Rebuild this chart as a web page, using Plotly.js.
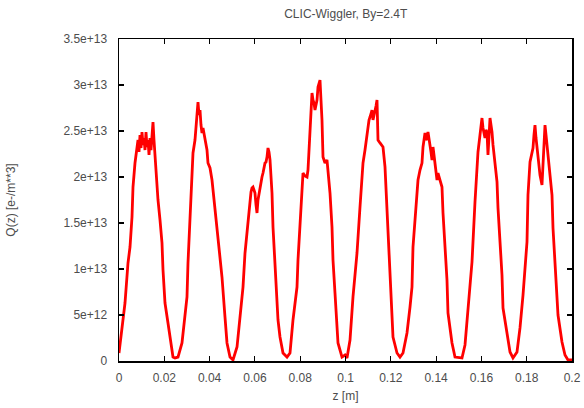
<!DOCTYPE html>
<html>
<head>
<meta charset="utf-8">
<script src="https://cdn.plot.ly/plotly-3.0.1.min.js"></script>
<style>html,body{margin:0;padding:0;background:#fff;}#chart{width:584px;height:408px;}</style>
</head>
<body>
<div id="chart"></div>
<script>
// z positions [m]
const zValues = [
  0.0000,0.00132,0.00265,0.00397,0.00486,0.00574,0.00618,0.00706,0.00795,0.00839,0.00883,0.00927,0.00971,0.01015,0.01060,0.01104,0.01148,0.01192,0.01236,0.01280,0.01325,0.01369,0.01413,0.01457,0.01501,0.01545,0.01589,0.01678,0.01722,0.01810,0.01898,0.01943,0.02031,0.02163,0.02340,0.02384,0.02472,
  0.02605,0.02781,0.02914,0.03002,0.03046,0.03135,0.03223,0.03267,0.03355,0.03400,0.03444,0.03488,0.03532,0.03576,0.03620,0.03664,0.03709,0.03797,0.03885,0.03929,0.04018,0.04106,0.04150,0.04238,0.04371,0.04547,0.04680,0.04768,0.04901,0.05033,
  0.05210,0.05342,0.05475,0.05563,0.05651,0.05695,0.05784,0.05828,0.05872,0.05916,0.05960,0.06004,0.06049,0.06093,0.06137,0.06225,0.06269,0.06313,0.06358,0.06402,0.06446,0.06490,0.06534,0.06578,0.06623,0.06667,0.06755,0.06799,0.06887,0.06976,0.07020,0.07108,0.07241,0.07417,0.07550,
  0.07682,0.07859,0.07903,0.07991,0.08079,0.08124,0.08212,0.08300,0.08344,0.08433,0.08477,0.08521,0.08565,0.08609,0.08653,0.08698,0.08742,0.08786,0.08830,0.08874,0.08918,0.08962,0.09007,0.09095,0.09183,0.09227,0.09316,0.09404,0.09448,0.09536,0.09625,0.09669,0.09845,0.09978,
  0.10066,0.10199,0.10331,0.10508,0.10640,0.10773,0.10861,0.10949,0.10993,0.11038,0.11082,0.11126,0.11170,0.11214,0.11258,0.11302,0.11347,0.11391,0.11435,0.11523,0.11656,0.11744,0.11832,0.11876,0.11965,0.12053,0.12097,0.12274,0.12406,
  0.12539,0.12715,0.12848,0.12936,0.12980,0.13068,0.13201,0.13289,0.13377,0.13422,0.13466,0.13510,0.13554,0.13598,0.13642,0.13687,0.13731,0.13775,0.13819,0.13863,0.13907,0.13951,0.14040,0.14084,0.14172,0.14260,0.14305,0.14393,0.14481,0.14525,0.14702,0.14834,0.15055,
  0.15143,0.15276,0.15408,0.15585,0.15717,0.15806,0.15850,0.15938,0.15982,0.16026,0.16071,0.16115,0.16159,0.16203,0.16247,0.16291,0.16336,0.16380,0.16424,0.16468,0.16512,0.16600,0.16689,0.16733,0.16821,0.16909,0.16954,0.17130,0.17263,0.17395,
  0.17572,0.17704,0.17837,0.18013,0.18057,0.18146,0.18234,0.18278,0.18322,0.18366,0.18411,0.18455,0.18499,0.18587,0.18675,0.18720,0.18764,0.18808,0.18852,0.18896,0.18940,0.19029,0.19117,0.19161,0.19249,0.19338,0.19382,0.19558,0.19691,0.19823,0.20000
];
// Q(z) [e-/m**3]
const qValues = [
  0.087e13,0.337e13,0.630e13,1.065e13,1.239e13,1.565e13,1.891e13,2.152e13,2.293e13,2.402e13,2.272e13,2.457e13,2.315e13,2.489e13,2.348e13,2.424e13,2.293e13,2.489e13,2.326e13,2.402e13,2.239e13,2.424e13,2.293e13,2.511e13,2.598e13,2.402e13,2.217e13,1.891e13,1.750e13,1.533e13,1.283e13,0.989e13,0.630e13,0.413e13,0.152e13,0.043e13,0.033e13,
  0.043e13,0.196e13,0.478e13,0.696e13,1.065e13,1.500e13,1.935e13,2.261e13,2.402e13,2.565e13,2.707e13,2.815e13,2.674e13,2.728e13,2.565e13,2.478e13,2.533e13,2.402e13,2.293e13,2.152e13,2.098e13,1.967e13,1.859e13,1.641e13,1.283e13,0.913e13,0.478e13,0.196e13,0.043e13,0.011e13,
  0.152e13,0.522e13,0.804e13,1.174e13,1.391e13,1.533e13,1.750e13,1.837e13,1.880e13,1.891e13,1.859e13,1.826e13,1.696e13,1.609e13,1.750e13,1.891e13,1.946e13,2.000e13,2.043e13,2.098e13,2.152e13,2.163e13,2.217e13,2.315e13,2.272e13,2.185e13,1.826e13,1.457e13,1.098e13,0.739e13,0.446e13,0.261e13,0.087e13,0.043e13,0.087e13,
  0.446e13,0.804e13,1.098e13,1.533e13,1.891e13,2.043e13,2.011e13,2.000e13,2.076e13,2.543e13,2.783e13,2.913e13,2.837e13,2.804e13,2.728e13,2.793e13,2.837e13,2.978e13,3.011e13,3.054e13,2.837e13,2.620e13,2.217e13,2.152e13,2.185e13,2.076e13,1.826e13,1.457e13,1.098e13,0.739e13,0.446e13,0.196e13,0.043e13,0.065e13,
  0.033e13,0.228e13,0.696e13,1.174e13,1.674e13,2.152e13,2.293e13,2.478e13,2.587e13,2.620e13,2.652e13,2.707e13,2.728e13,2.620e13,2.663e13,2.707e13,2.772e13,2.837e13,2.402e13,2.370e13,2.326e13,2.109e13,1.674e13,1.315e13,0.957e13,0.554e13,0.261e13,0.087e13,0.043e13,
  0.087e13,0.304e13,0.587e13,0.804e13,1.239e13,1.533e13,1.967e13,2.076e13,2.152e13,2.326e13,2.402e13,2.478e13,2.402e13,2.424e13,2.489e13,2.424e13,2.370e13,2.272e13,2.185e13,2.326e13,2.239e13,2.152e13,1.967e13,2.043e13,1.967e13,1.891e13,1.609e13,1.239e13,0.880e13,0.522e13,0.196e13,0.043e13,0.033e13,
  0.033e13,0.174e13,0.576e13,1.076e13,1.728e13,2.163e13,2.272e13,2.457e13,2.565e13,2.641e13,2.533e13,2.457e13,2.424e13,2.511e13,2.489e13,2.239e13,2.457e13,2.641e13,2.565e13,2.489e13,2.348e13,2.163e13,1.946e13,1.663e13,1.293e13,0.935e13,0.576e13,0.283e13,0.098e13,0.033e13,
  0.098e13,0.359e13,0.717e13,1.293e13,1.804e13,2.163e13,2.272e13,2.315e13,2.457e13,2.565e13,2.424e13,2.315e13,2.163e13,2.022e13,1.913e13,2.163e13,2.402e13,2.565e13,2.457e13,2.348e13,2.163e13,2.022e13,1.804e13,1.446e13,1.076e13,0.641e13,0.500e13,0.207e13,0.065e13,0.011e13,0.011e13
];
const xTickVals = [0,0.02,0.04,0.06,0.08,0.1,0.12,0.14,0.16,0.18,0.2];
const xTickText = ['0','0.02','0.04','0.06','0.08','0.1','0.12','0.14','0.16','0.18','0.2'];
const yTickVals = [0,5e12,1e13,1.5e13,2e13,2.5e13,3e13,3.5e13];
const yTickText = ['0','5e+12','1e+13','1.5e+13','2e+13','2.5e+13','3e+13','3.5e+13'];

const font = {family: 'Liberation Sans, Arial, sans-serif', size: 12, color: '#4d4d4d'};
const trace = {
  x: zValues, y: qValues, type: 'scatter', mode: 'lines',
  line: {color: '#ff0000', width: 2.8}, hoverinfo: 'none'
};
const axisCommon = {
  showline: true, linecolor: '#000', linewidth: 1.5, mirror: 'ticks',
  ticks: 'inside', ticklen: 5, tickwidth: 1.2, tickcolor: '#000',
  showgrid: false, zeroline: false, tickfont: font
};
const layout = {
  width: 584, height: 408,
  margin: {l: 119, r: 12, t: 39, b: 47},
  paper_bgcolor: '#fff', plot_bgcolor: '#fff',
  showlegend: false,
  font: font,
  title: {text: 'CLIC-Wiggler, By=2.4T', font: font, x: 0.592, xanchor: 'center', y: 0.965, yanchor: 'middle'},
  xaxis: Object.assign({}, axisCommon, {
    range: [0, 0.2], tickvals: xTickVals, ticktext: xTickText, ticklabelstandoff: 5,
    title: {text: 'z [m]', font: font, standoff: 7}
  }),
  yaxis: Object.assign({}, axisCommon, {
    range: [0, 3.5e13], tickvals: yTickVals, ticktext: yTickText, ticklabelstandoff: 8,
    title: {text: 'Q(z) [e-/m**3]', font: font, standoff: 45}
  })
};
Plotly.newPlot('chart', [trace], layout, {staticPlot: true, displayModeBar: false});
</script>
</body>
</html>
